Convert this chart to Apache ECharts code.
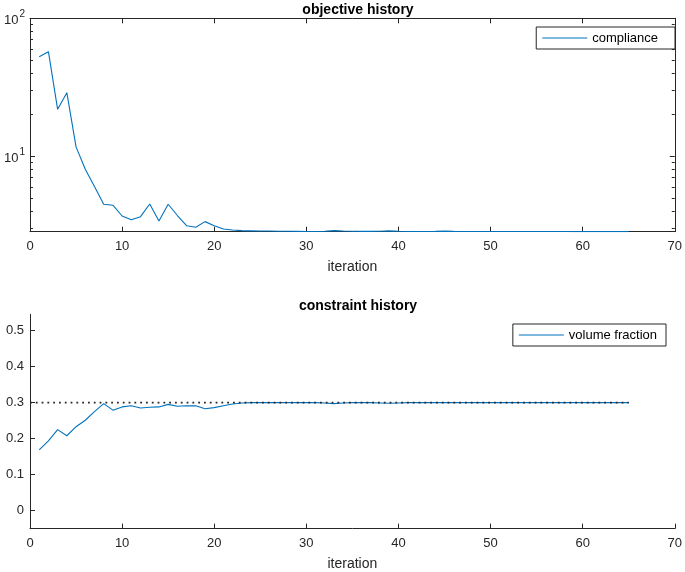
<!DOCTYPE html>
<html>
<head>
<meta charset="utf-8">
<script src="https://cdn.jsdelivr.net/npm/echarts@6/dist/echarts.min.js"></script>
<style>html,body{margin:0;padding:0;background:#fff;}#c{width:685px;height:572px;}</style>
</head>
<body>
<div id="c"></div>
<script>
const iterations = Array.from({length: 65}, (_, i) => i + 1);
const compliance = [52.7, 57.3, 21.9, 28.9, 11.7, 8.05, 6.03, 4.49, 4.42, 3.69,
  3.47, 3.65, 4.51, 3.40, 4.49, 3.72, 3.14, 3.06, 3.36, 3.14,
  2.97, 2.92, 2.89, 2.88, 2.87, 2.87, 2.86, 2.86, 2.855, 2.85,
  2.85, 2.86, 2.89, 2.87, 2.86, 2.855, 2.855, 2.86, 2.88, 2.86,
  2.85, 2.85, 2.85, 2.855, 2.865, 2.855, 2.85, 2.85, 2.85, 2.85,
  2.848, 2.848, 2.848, 2.847, 2.847, 2.846, 2.846, 2.846, 2.845, 2.845,
  2.845, 2.845, 2.844, 2.844, 2.844];
const volumeFraction = [0.169, 0.194, 0.225, 0.208, 0.233, 0.251, 0.275, 0.297, 0.279, 0.288,
  0.291, 0.285, 0.287, 0.288, 0.295, 0.290, 0.291, 0.291, 0.283, 0.286,
  0.291, 0.296, 0.299, 0.300, 0.300, 0.300, 0.300, 0.300, 0.300, 0.300,
  0.300, 0.299, 0.297, 0.299, 0.300, 0.300, 0.300, 0.299, 0.298, 0.299,
  0.300, 0.300, 0.300, 0.300, 0.300, 0.300, 0.300, 0.300, 0.300, 0.300,
  0.300, 0.300, 0.300, 0.300, 0.300, 0.300, 0.300, 0.300, 0.300, 0.300,
  0.300, 0.300, 0.300, 0.300, 0.300];
const targetX = [0, 65];
const targetY = [0.3, 0.3];
const xTicks = [0, 10, 20, 30, 40, 50, 60, 70];
const logMajor = [10, 100];
const logMinor = [3, 4, 5, 6, 7, 8, 9, 20, 30, 40, 50, 60, 70, 80, 90];
const volTicks = [0, 0.1, 0.2, 0.3, 0.4, 0.5];

const FONT = 'Liberation Sans';
const AX = '#262626';
const BLUE = '#0072BD';

const chart = echarts.init(document.getElementById('c'), null, {renderer: 'canvas'});

const lineStyle = {color: AX, width: 1};
function xAx(gridIndex, position, showLabel, name) {
  return {
    type: 'value', gridIndex, position, min: 0, max: 70, interval: 10,
    axisLine: {show: true, onZero: false, lineStyle},
    axisTick: {show: true, inside: true, length: 5, lineStyle},
    axisLabel: {show: showLabel, margin: 8, fontFamily: FONT, fontSize: 13, color: AX},
    splitLine: {show: false},
    name: name || '', nameLocation: 'middle', nameGap: 28,
    nameTextStyle: {fontFamily: FONT, fontSize: 14, color: AX}
  };
}
function logAx(position, values, len, showLabel, showLine) {
  return {
    type: 'log', logBase: 10, gridIndex: 0, position, min: 2.84, max: 100,
    axisLine: {show: showLine, onZero: false, lineStyle},
    axisTick: {show: true, inside: true, length: len, customValues: values, lineStyle},
    axisLabel: {
      show: showLabel, customValues: values, margin: 5,
      formatter: v => '{b|10}{s|' + Math.round(Math.log10(v)) + '}',
      rich: {
        b: {fontFamily: FONT, fontSize: 13, color: AX, verticalAlign: 'bottom', padding: [5, 0, 0, 0]},
        s: {fontFamily: FONT, fontSize: 10, color: AX, verticalAlign: 'top', padding: [0, 0, 0, 1]}
      }
    },
    splitLine: {show: false}
  };
}
function legendCfg(name, right, top, padRight) {
  return {
    data: [{name: name, icon: 'rect'}], right: right, top: top, orient: 'vertical',
    backgroundColor: '#fff', borderColor: '#262626', borderWidth: 1, borderRadius: 0,
    padding: [4, padRight, 4, 6], itemWidth: 45, itemHeight: 1.2, itemGap: 5,
    textStyle: {fontFamily: FONT, fontSize: 13, color: '#000', lineHeight: 14}
  };
}

const option = {
  backgroundColor: '#fff',
  animation: false,
  title: [
    {text: 'objective history', left: 353, top: -2, textAlign: 'center',
     textStyle: {fontFamily: FONT, fontSize: 14, fontWeight: 'bold', color: '#000'}},
    {text: 'constraint history', left: 353, top: 294, textAlign: 'center',
     textStyle: {fontFamily: FONT, fontSize: 14, fontWeight: 'bold', color: '#000'}}
  ],
  grid: [
    {left: 30, top: 18.3, width: 646.7, height: 213.4},
    {left: 30, top: 314.3, width: 646.7, height: 214.4}
  ],
  legend: [
    legendCfg('compliance', 10, 27, 17),
    legendCfg('volume fraction', 19, 324, 9)
  ],
  xAxis: [
    xAx(0, 'bottom', true, 'iteration'),
    xAx(0, 'top', false),
    xAx(1, 'bottom', true, 'iteration')
  ],
  yAxis: [
    logAx('left', logMajor, 5, true, true),
    logAx('left', logMinor, 3, false, false),
    logAx('right', logMajor, 5, false, true),
    logAx('right', logMinor, 3, false, false),
    {
      type: 'value', gridIndex: 1, position: 'left', min: -0.05, max: 0.545,
      axisLine: {show: true, onZero: false, lineStyle},
      axisTick: {show: true, inside: true, length: 5, customValues: volTicks, lineStyle},
      axisLabel: {customValues: volTicks, margin: 6, fontFamily: FONT, fontSize: 13, color: AX,
        formatter: v => Math.abs(v) < 1e-9 ? '0' : v.toFixed(1)},
      splitLine: {show: false}
    }
  ],
  series: [
    {name: 'compliance', type: 'line', xAxisIndex: 0, yAxisIndex: 0, symbol: 'none',
     data: iterations.map((x, i) => [x, compliance[i]]),
     lineStyle: {color: BLUE, width: 1.1}, itemStyle: {color: BLUE}},
    {name: 'volume fraction', type: 'line', xAxisIndex: 2, yAxisIndex: 4, symbol: 'none',
     data: iterations.map((x, i) => [x, volumeFraction[i]]),
     lineStyle: {color: BLUE, width: 1.1}, itemStyle: {color: BLUE}},
    {name: 'target', type: 'line', xAxisIndex: 2, yAxisIndex: 4, symbol: 'none',
     data: targetX.map((x, i) => [x, targetY[i]]),
     lineStyle: {color: '#262626', width: 1.8, type: [1.8, 4]}}
  ]
};
chart.setOption(option);
</script>
</body>
</html>
